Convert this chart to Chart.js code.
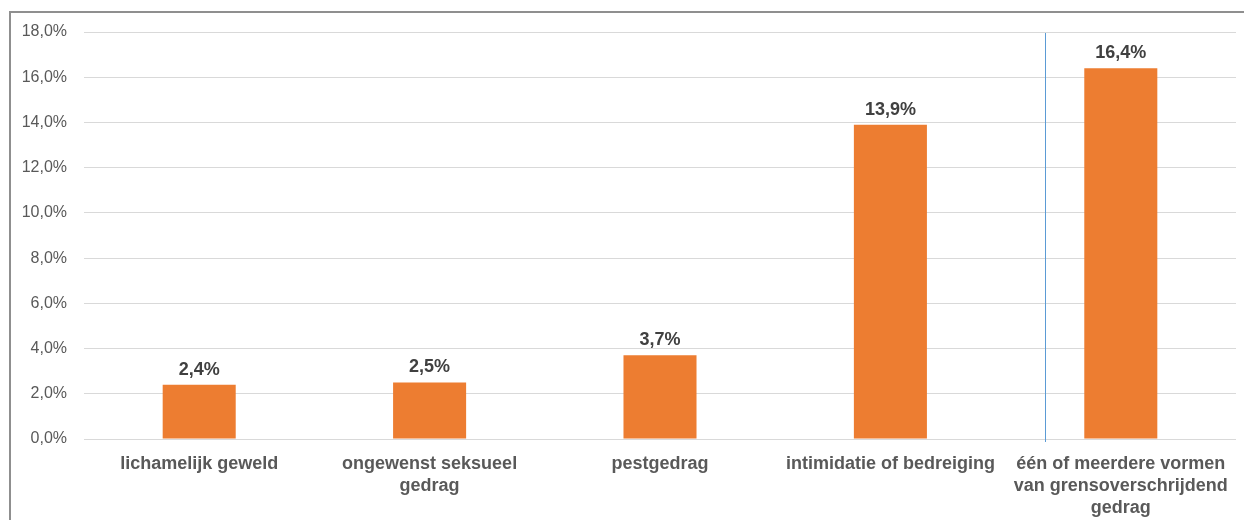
<!DOCTYPE html>
<html>
<head>
<meta charset="utf-8">
<script src="https://cdn.jsdelivr.net/npm/chart.js@4"></script>
<style>
  body { margin: 0; background: #fff; overflow: hidden; }
  #frame { position: absolute; left: 9px; top: 11px; width: 1300px; height: 600px; border: 2px solid #8f8f8f; box-sizing: border-box; }
  #wrap { position: absolute; left: 0; top: 0; width: 1244px; height: 520px; }
</style>
</head>
<body>
<div id="frame"></div>
<div id="wrap"><canvas id="chart"></canvas></div>
<script>
// categories (already split into lines as in the picture)
const categories = [
    ['lichamelijk geweld'],
    ['ongewenst seksueel', 'gedrag'],
    ['pestgedrag'],
    ['intimidatie of bedreiging'],
    ['één of meerdere vormen', 'van grensoverschrijdend', 'gedrag']
];
const percentages = [2.4, 2.5, 3.7, 13.9, 16.4];
const yTicks = [0, 2, 4, 6, 8, 10, 12, 14, 16, 18];

// position of the separator line, in category units after category 3
const separatorAfter = 3;
const separatorOffset = 0.67;

function fmt(v) {
    return v.toFixed(1).replace('.', ',') + '%';
}

// value labels above the bars
const valueLabels = {
    id: 'valueLabels',
    afterDatasetsDraw(chart) {
        const ctx = chart.ctx;
        const meta = chart.getDatasetMeta(0);
        ctx.save();
        ctx.font = 'bold 18px "Liberation Sans", Arial, sans-serif';
        ctx.fillStyle = '#404040';
        ctx.textAlign = 'center';
        ctx.textBaseline = 'middle';
        meta.data.forEach((bar, i) => {
            ctx.fillText(fmt(percentages[i]), bar.x, bar.y - 15);
        });
        ctx.restore();
    }
};

// thin blue separator before the last category
const separator = {
    id: 'separator',
    afterDatasetsDraw(chart) {
        const x = chart.scales.x;
        const a = x.getPixelForValue(separatorAfter);
        const b = x.getPixelForValue(separatorAfter + 1);
        const px = Math.round(a + (b - a) * separatorOffset);
        const ctx = chart.ctx;
        ctx.save();
        ctx.fillStyle = '#5b9bd5';
        ctx.fillRect(px, chart.chartArea.top + 1, 1, chart.chartArea.bottom - chart.chartArea.top + 2);
        ctx.restore();
    }
};

const ctx = document.getElementById('chart').getContext('2d');
new Chart(ctx, {
    type: 'bar',
    data: {
        labels: categories,
        datasets: [{
            data: percentages,
            backgroundColor: '#ed7d31',
            borderWidth: 0,
            categoryPercentage: 1,
            barPercentage: 0.317
        }]
    },
    options: {
        responsive: true,
        maintainAspectRatio: false,
        animation: false,
        layout: { padding: { top: 32, right: 8, bottom: 0, left: 0 } },
        plugins: {
            legend: { display: false },
            tooltip: { enabled: false }
        },
        scales: {
            x: {
                grid: { display: false, drawTicks: false },
                border: { display: false },
                ticks: {
                    color: '#595959',
                    padding: 14,
                    maxRotation: 0,
                    autoSkip: false,
                    font: { family: '"Liberation Sans", Arial, sans-serif', size: 18, weight: 'bold', lineHeight: 1.22 }
                },
                afterFit(scale) { scale.height = 81; }
            },
            y: {
                min: 0,
                max: 18,
                afterBuildTicks(scale) { scale.ticks = yTicks.map(v => ({ value: v })); },
                grid: { color: '#d9d9d9', drawTicks: false },
                border: { display: false },
                ticks: {
                    color: '#595959',
                    padding: 17,
                    font: { family: '"Liberation Sans", Arial, sans-serif', size: 16 },
                    callback: v => fmt(v)
                },
                afterFit(scale) { scale.width = 84; }
            }
        }
    },
    plugins: [valueLabels, separator]
});
</script>
</body>
</html>
